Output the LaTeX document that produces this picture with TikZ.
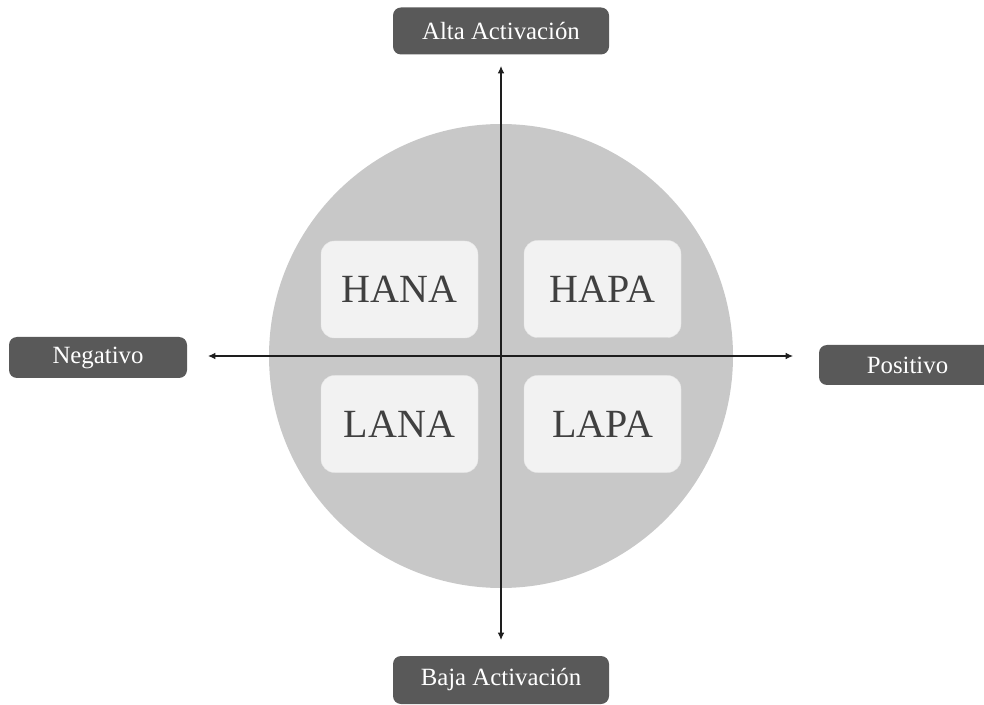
\documentclass[tikz,border=0pt]{standalone}
\usepackage{fontspec}
\setmainfont{Liberation Serif}
\usetikzlibrary{arrows.meta}
\definecolor{labelfill}{RGB}{89,89,89}
\definecolor{discfill}{RGB}{200,200,200}
\definecolor{cellfill}{RGB}{242,242,242}
\definecolor{celltext}{RGB}{64,64,64}
\definecolor{axiscol}{RGB}{30,30,30}
\tikzset{
  axislabel/.style={fill=labelfill, text=white, rounded corners=6pt,
    inner sep=0pt, font=\fontsize{18.6}{22}\selectfont},
  cell/.style={fill=cellfill, draw=cellfill!95!black, line width=0.3pt, text=celltext,
    rounded corners=10pt, inner sep=0pt,
    minimum width=117.75pt, minimum height=72.75pt,
    font=\fontsize{30}{34}\selectfont},
  axisline/.style={draw=axiscol, line width=0.8pt,
    {Latex[length=5.5pt,width=5pt]}-{Latex[length=5.5pt,width=5pt]}}
}
\begin{document}
\begin{tikzpicture}[x=0.75pt, y=-0.75pt]
  \useasboundingbox (0,0) rectangle (984,705);
  \clip (0,0) rectangle (984,705);

  % affect circumplex disc
  \fill[discfill] (501,356) circle[radius=232];

  % axis end points
  \coordinate (top) at (501,66);
  \coordinate (bottom) at (501,640);
  \coordinate (left) at (208,356);
  \coordinate (right) at (793,356);

  % quadrant cells
  \node[cell] (hana) at (399.5,289.5) {HANA};
  \node[cell] (hapa) at (602.5,289) {HAPA};
  \node[cell] (lana) at (399.5,424) {LANA};
  \node[cell] (lapa) at (602.5,424) {LAPA};

  % axes
  \draw[axisline] (bottom) -- (top);
  \draw[axisline] (left) -- (right);

  % axis labels
  \node[axislabel, minimum width=162pt, minimum height=35.25pt] (alta) at (501,31) {Alta Activación};
  \node[axislabel, minimum width=162pt, minimum height=36pt] (baja) at (501,680) {Baja Activación};
  \node[axislabel, minimum width=133.5pt, minimum height=30.75pt] (neg) at (98,357.5) {Negativo};
  \node[axislabel, minimum width=132.75pt, minimum height=30pt] (pos) at (907.5,365) {Positivo};
\end{tikzpicture}
\end{document}
